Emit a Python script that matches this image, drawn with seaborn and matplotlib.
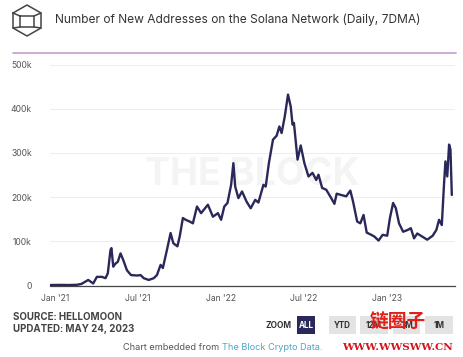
import pandas as pd
import matplotlib
matplotlib.use("Agg")
import matplotlib.pyplot as plt
from matplotlib.patches import FancyBboxPatch
from matplotlib.lines import Line2D
import seaborn as sns

# values (daily, 7DMA)
dates = [
    "2020-12-21", "2021-01-10", "2021-02-01", "2021-02-18", "2021-02-28", "2021-03-15",
    "2021-03-26", "2021-04-03", "2021-04-14", "2021-04-22", "2021-04-27", "2021-05-03",
    "2021-05-05", "2021-05-09", "2021-05-14", "2021-05-19", "2021-05-25", "2021-05-31",
    "2021-06-08", "2021-06-17", "2021-07-01", "2021-07-08", "2021-07-15", "2021-07-26",
    "2021-08-06", "2021-08-13", "2021-08-21", "2021-08-26", "2021-09-04", "2021-09-12",
    "2021-09-18", "2021-09-27", "2021-10-02", "2021-10-09", "2021-10-15", "2021-10-24",
    "2021-10-31", "2021-11-09", "2021-11-18", "2021-12-03", "2021-12-14", "2021-12-25",
    "2022-01-01", "2022-01-08", "2022-01-15", "2022-01-23", "2022-01-28", "2022-02-01",
    "2022-02-08", "2022-02-16", "2022-02-26", "2022-03-07", "2022-03-17", "2022-03-24",
    "2022-04-04", "2022-04-09", "2022-04-16", "2022-04-25", "2022-05-03", "2022-05-09",
    "2022-05-14", "2022-05-21", "2022-05-28", "2022-06-03", "2022-06-07", "2022-06-10",
    "2022-06-18", "2022-06-25", "2022-07-03", "2022-07-12", "2022-07-21", "2022-07-29",
    "2022-08-03", "2022-08-11", "2022-08-20", "2022-08-31", "2022-09-07", "2022-09-12",
    "2022-09-22", "2022-10-03", "2022-10-12", "2022-10-18", "2022-10-27", "2022-11-03",
    "2022-11-10", "2022-11-17", "2022-11-27", "2022-12-04", "2022-12-13", "2022-12-22",
    "2023-01-01", "2023-01-07", "2023-01-14", "2023-01-20", "2023-01-27", "2023-02-05",
    "2023-02-15", "2023-02-22", "2023-03-01", "2023-03-08", "2023-03-19", "2023-03-30",
    "2023-04-11", "2023-04-19", "2023-04-25", "2023-05-01", "2023-05-06", "2023-05-09",
    "2023-05-13", "2023-05-17", "2023-05-20", "2023-05-23",
]
new_addresses = [
    1500, 1800, 1500, 2000, 4000, 13000,
    5000, 20000, 20000, 17000, 28000, 81000,
    85000, 43000, 50000, 54000, 73000, 58000,
    35000, 24000, 23000, 24000, 17000, 13000,
    17000, 24000, 47000, 40000, 81000, 119000,
    96000, 89000, 111000, 153000, 149000, 145000,
    141000, 179000, 164000, 183000, 156000, 164000,
    149000, 179000, 187000, 228000, 277000, 224000,
    198000, 213000, 190000, 175000, 194000, 188000,
    228000, 224000, 277000, 330000, 339000, 360000,
    345000, 383000, 432000, 405000, 364000, 368000,
    285000, 317000, 277000, 247000, 255000, 239000,
    251000, 221000, 217000, 198000, 185000, 208000,
    205000, 202000, 215000, 190000, 145000, 141000,
    160000, 120000, 115000, 111000, 102000, 115000,
    113000, 153000, 187000, 175000, 141000, 122000,
    126000, 130000, 107000, 118000, 111000, 104000,
    113000, 126000, 149000, 137000, 232000, 281000,
    247000, 319000, 308000, 205000,
]
y_ticks = [0, 100000, 200000, 300000, 400000, 500000]
y_labels = ["0", "100k", "200k", "300k", "400k", "500k"]
x_ticks = ["2021-01-01", "2021-07-01", "2022-01-01", "2022-07-01", "2023-01-01"]
x_labels = ["Jan '21", "Jul '21", "Jan '22", "Jul '22", "Jan '23"]

df = pd.DataFrame({"date": pd.to_datetime(dates), "value": new_addresses})

sns.set_style("white")
plt.rcParams["font.family"] = ["Inter", "DejaVu Sans"]

W, H = 463, 357
fig = plt.figure(figsize=(W / 100, H / 100), dpi=100)
fig.patch.set_facecolor("white")

def fx(px):
    return px / W

def fy(py):
    return 1 - py / H

ax = fig.add_axes([fx(50), fy(285.7), fx(455) - fx(50), fy(64.5) - fy(285.7)])

# watermark behind the line
ax.text(0.5, 0.5, "THE BLOCK", transform=ax.transAxes, ha="center", va="center",
        fontsize=27, fontweight="bold", color="#f4f4f4", zorder=0)

sns.lineplot(data=df, x="date", y="value", ax=ax, color="#2a2859", linewidth=1.7, zorder=3)

ax.set_ylim(0, 500000)
ax.set_xlim(pd.Timestamp("2020-12-21"), pd.Timestamp("2023-05-30"))
ax.set_yticks(y_ticks)
ax.set_yticklabels(y_labels)
ax.set_xticks(pd.to_datetime(x_ticks))
ax.set_xticklabels(x_labels)
ax.tick_params(axis="both", length=0, labelsize=6.2, colors="#555555")
ax.tick_params(axis="y", pad=13)
ax.tick_params(axis="x", pad=6)
ax.set_xlabel("")
ax.set_ylabel("")
ax.grid(axis="y", color="#eeeeee", linewidth=0.8)
for s in ["top", "right", "left"]:
    ax.spines[s].set_visible(False)
ax.spines["bottom"].set_color("#444444")
ax.spines["bottom"].set_linewidth(0.9)

# header icon (cube outline)
icon_c = "#444444"
hx = [13, 27, 41, 41, 27, 13, 13]
hy = [13, 5, 13, 28, 36, 28, 13]
fig.add_artist(Line2D([fx(v) for v in hx], [fy(v) for v in hy], color=icon_c, lw=1.1))
ix = [20, 34, 34, 20, 20]
iy = [16, 16, 27, 27, 16]
fig.add_artist(Line2D([fx(v) for v in ix], [fy(v) for v in iy], color=icon_c, lw=1.1))
for a, b in [((13, 13), (20, 16)), ((41, 13), (34, 16)), ((41, 28), (34, 27)), ((13, 28), (20, 27))]:
    fig.add_artist(Line2D([fx(a[0]), fx(b[0])], [fy(a[1]), fy(b[1])], color=icon_c, lw=1.1))

fig.text(fx(55), fy(20), "Number of New Addresses on the Solana Network (Daily, 7DMA)",
         fontsize=8.6, color="#333333", va="center", ha="left")
fig.add_artist(Line2D([fx(13), fx(456)], [fy(52.5), fy(52.5)], color="#c8a2d6", lw=1.3))

# footer
fig.text(fx(13), fy(317), "SOURCE: HELLOMOON", fontsize=7, fontweight="bold",
         color="#444444", va="center")
fig.text(fx(13), fy(329.5), "UPDATED: MAY 24, 2023", fontsize=7, fontweight="bold",
         color="#444444", va="center")
fig.text(fx(278), fy(325), "ZOOM", fontsize=6, fontweight="bold", color="#333333",
         ha="center", va="center")
buttons = [("ALL", 297, 315), ("YTD", 329, 356), ("12M", 360, 388), ("3M", 393, 420), ("1M", 425, 453)]
for label, x0, x1 in buttons:
    active = label == "ALL"
    fig.add_artist(FancyBboxPatch((fx(x0), fy(334)), fx(x1) - fx(x0), fy(316) - fy(334),
                                  boxstyle="square,pad=0", transform=fig.transFigure,
                                  facecolor="#2a2859" if active else "#e3e3e3", edgecolor="none"))
    fig.text(fx((x0 + x1) / 2), fy(325), label, fontsize=5.8, fontweight="bold",
             color="white" if active else "#333333", ha="center", va="center")

t1 = fig.text(fx(123), fy(348), "Chart embedded from ", fontsize=6.6, color="#555555", va="center")
fig.canvas.draw()
bb = t1.get_window_extent()
fig.text(bb.x1 / W, fy(348), "The Block Crypto Data.", fontsize=6.6, color="#4aa8c8", va="center")

# reposting site overlay (sits on top of the buttons, as in the reference)
fig.text(fx(398), fy(322), "链圈子", fontsize=13.5, fontweight="bold", color="#e0201b",
         ha="center", va="center", family=["Noto Sans CJK SC", "DejaVu Sans"])
fig.text(fx(453), fy(348), "WWW.WWSWW.CN", fontsize=7.5, fontweight="bold", color="#d4141a",
         ha="right", va="center", family=["DejaVu Serif"])

fig.savefig("out.png", dpi=100)
